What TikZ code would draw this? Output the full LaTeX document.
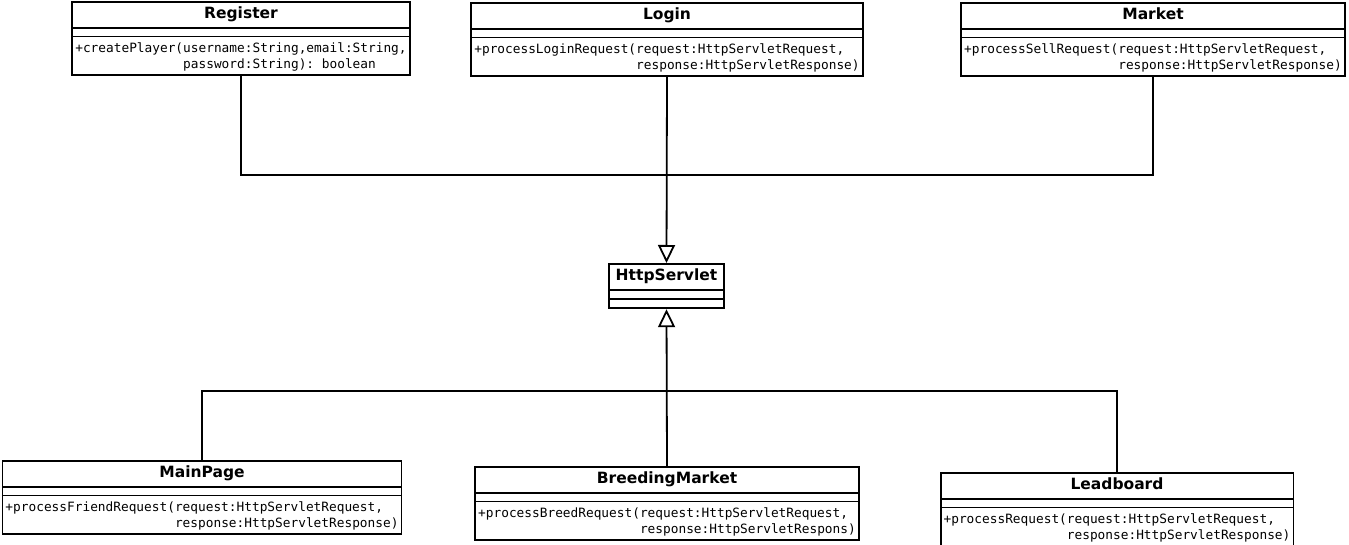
\documentclass[tikz,border=0pt]{standalone}
\usepackage{fontspec}
\setmainfont{DejaVu Sans}
\setmonofont{DejaVu Sans Mono}
\usetikzlibrary{shapes.multipart,arrows.meta}

\newcommand{\cname}[1]{\rule[-5pt]{0pt}{18pt}{\fontsize{15.5}{18}\selectfont\rmfamily\bfseries #1}}
\newcommand{\ops}[2]{\vbox{\hbox{\rule{0pt}{12pt}#1}\hbox{#2}}}
\newcommand{\noattr}[1]{\phantom{\rule{0.1pt}{#1}}}

\begin{document}
\begin{tikzpicture}[x=1pt,y=-1pt,
    umlclass/.style={draw, line width=1.8pt, rectangle split, rectangle split parts=3,
      rectangle split part align={center,left,left},
      inner xsep=3pt, inner ysep=3pt, anchor=north,
      font=\fontsize{12.8}{16}\selectfont\ttfamily},
    wire/.style={line width=1.8pt},
    gen/.style={-{Triangle[open,length=18pt,width=17pt]}}]
    \path[use as bounding box, fill=white] (0,0) rectangle (1349,545);

    % top row
    \node[umlclass] (register) at (241,1) {\cname{Register}\nodepart{two}\noattr{1pt}\nodepart{three}%
      \ops{+createPlayer(username:String,email:String,}
          {\phantom{+createPlayer(}password:String): boolean}};
    \node[umlclass] (login) at (667,2) {\cname{Login}\nodepart{two}\noattr{1pt}\nodepart{three}%
      \ops{+processLoginRequest(request:HttpServletRequest,}
          {\phantom{+processLoginRequest(}response:HttpServletResponse)}};
    \node[umlclass] (market) at (1153,2) {\cname{Market}\nodepart{two}\noattr{1pt}\nodepart{three}%
      \ops{+processSellRequest(request:HttpServletRequest,}
          {\phantom{+processSellRequest(}response:HttpServletResponse)}};

    % base class
    \node[umlclass, minimum width=115pt] (servlet) at (666.5,263)
      {\cname{HttpServlet}\nodepart{two}\noattr{1.5pt}\nodepart{three}\noattr{1.5pt}};

    % bottom row
    \node[umlclass] (mainpage) at (202,460) {\cname{MainPage}\nodepart{two}\noattr{1pt}\nodepart{three}%
      \ops{+processFriendRequest(request:HttpServletRequest,}
          {\phantom{+processFriendRequest(}response:HttpServletResponse)}};
    \node[umlclass] (breeding) at (667,466) {\cname{BreedingMarket}\nodepart{two}\noattr{1pt}\nodepart{three}%
      \ops{+processBreedRequest(request:HttpServletRequest,}
          {\phantom{+processBreedRequest(}response:HttpServletRespons)}};
    \node[umlclass] (leadboard) at (1117,472) {\cname{Leadboard}\nodepart{two}\noattr{1pt}\nodepart{three}%
      \ops{+processRequest(request:HttpServletRequest,}
          {\phantom{+processRequest(}response:HttpServletResponse)}};

    \coordinate (upjoin) at (667,175);
    \coordinate (downjoin) at (667,391);

    \draw[wire] (register.south) |- (upjoin) -| (market.south);
    \draw[wire, gen] (login.south) -- (servlet.north);
    \draw[wire] (mainpage.north) |- (downjoin) -| (leadboard.north);
    \draw[wire, gen] (breeding.north) -- (servlet.south);
\end{tikzpicture}
\end{document}
